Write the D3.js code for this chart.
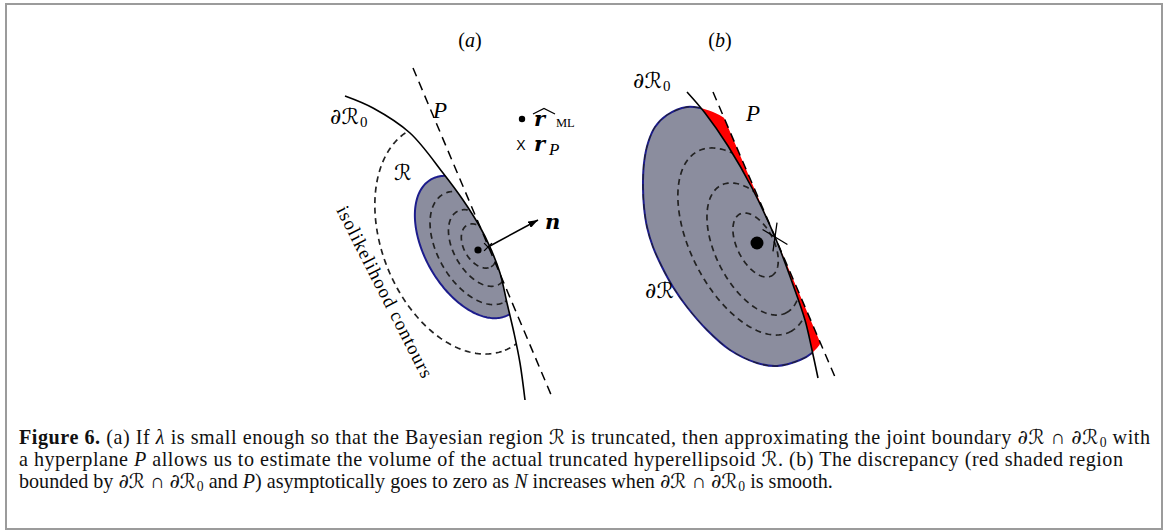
<!DOCTYPE html>
<html>
<head>
<meta charset="utf-8">
<script src="https://cdn.jsdelivr.net/npm/d3@7"></script>
<style>
  html, body { margin: 0; padding: 0; background: #fff; }
  svg { display: block; }
</style>
</head>
<body>
<svg id="fig" width="1168" height="531"></svg>
<script>
// ---------- geometry (local units; origin at the ML estimate, y up) ----------
const panelNames = ["a", "b"];

// Panel (a)
const boundaryA = [[-13.3, 15.4], [-10.5, 14.2], [-6.8, 11.7], [-3.5, 7.7], [-1.5, 5.0], [0.2, 2.3],
                   [1.2, 0.3], [2.2, -2.3], [2.9, -5.3], [3.6, -8.3], [4.2, -11.3], [4.7, -15.0]];
const planeA = [[-6.5, 18.2], [7.4, -14.7]];
// ellipses: [cx, cy, semi-major, semi-minor, tilt in degrees]
const regionA = [-0.8, 0.3, 7.8, 4.5, -60];
const contoursA = [[0.1, 0.4, 2.4, 1.5, -60], [0.0, 0.2, 4.2, 2.4, -60],
                   [-0.4, 0.2, 6.2, 3.6, -60], [-1.8, 1.1, 12.0, 7.8, -68]];
const estimateA = [0, 0];
const projectionA = [1.0, 0.3];
const normalA = [[1.0, 0.3], [6.0, 3.0]];

// Panel (b)
const boundaryB = [[-7.0, 15.1], [-5.2, 13.0], [-2.9, 9.7], [-0.5, 5.5], [1.8, 0.6],
                   [3.5, -3.9], [4.8, -7.7], [5.5, -10.7], [6.1, -13.5]];
const planeB = [[-4.4, 15.1], [7.8, -13.4]];
// outline of the Bayesian region ∂R (closed loop, clockwise from the top)
const regionB = [[-7.0, 13.6], [-5.7, 13.5], [-4.4, 13.1], [-3.1, 12.4], [-1.3, 11.0], [0.7, 8.5],
                 [2.5, 5.3], [4.1, 1.5], [5.4, -2.5], [6.3, -5.9], [6.7, -8.2], [6.4, -9.9],
                 [5.5, -11.0], [4.3, -11.7], [2.0, -12.3], [0.0, -12.0], [-2.7, -10.7], [-5.0, -8.7],
                 [-7.0, -6.4], [-8.4, -4.4], [-9.5, -2.4], [-10.4, -0.4], [-11.0, 1.6], [-11.3, 3.6],
                 [-11.4, 5.6], [-11.3, 8.0], [-10.9, 10.0], [-10.2, 11.6], [-9.0, 12.8]];
const contoursB = [[-0.14, -0.2, 3.47, 1.83, -63], [-0.33, -0.6, 7.16, 3.77, -63],
                   [-1.3, 0.15, 10.14, 5.33, -63]];
const estimateB = [0, 0];
const projectionB = [1.8, 0.6];

// ---------- caption ----------
const captionLines = [
  [["Figure 6.", "bold"], [" (a)  If "], ["λ", "i"], [" is small enough so that the Bayesian region "], ["ℛ", "s"],
   [" is truncated, then approximating the joint boundary "], ["∂ℛ", "s"], [" ∩ "], ["∂ℛ", "s"], ["0", "sub"], [" with"]],
  [["a hyperplane "], ["P", "i"], [" allows us to estimate the volume of the actual truncated hyperellipsoid "], ["ℛ", "s"],
   [". (b)  The discrepancy (red shaded region"]],
  [["bounded by "], ["∂ℛ", "s"], [" ∩ "], ["∂ℛ", "s"], ["0", "sub"], [" and "], ["P", "i"],
   [") asymptotically goes to zero as "], ["N", "i"], [" increases when "], ["∂ℛ", "s"], [" ∩ "], ["∂ℛ", "s"], ["0", "sub"],
   [" is smooth."]]
];

// ---------- drawing ----------
const svg = d3.select("#fig");
const defs = svg.append("defs");

const GRAY = "#8b8d9e", BLUE = "#1c1c8c", RED = "#ff0000";
const SERIF = "'Liberation Serif', 'DejaVu Serif', serif";
const SCRIPT = "'DejaVu Serif', 'DejaVu Sans', serif";
const MATHBOLD = "'DejaVu Serif', serif";

svg.append("rect")
  .attr("x", 6).attr("y", 4).attr("width", 1156).attr("height", 525)
  .attr("fill", "none").attr("stroke", "#9b9b9b").attr("stroke-width", 2);

defs.append("marker")
  .attr("id", "arrow").attr("viewBox", "0 0 10 7")
  .attr("refX", 10).attr("refY", 3.5)
  .attr("markerWidth", 10).attr("markerHeight", 7)
  .attr("markerUnits", "userSpaceOnUse").attr("orient", "auto")
  .append("path").attr("d", "M0,0 L10,3.5 L0,7 Z").attr("fill", "#000");

function ellipsePoints(e, n = 240) {
  const [cx, cy, a, b, deg] = e;
  const t = deg * Math.PI / 180, c = Math.cos(t), s = Math.sin(t);
  return d3.range(n).map(i => {
    const u = 2 * Math.PI * i / n;
    const px = a * Math.cos(u), py = b * Math.sin(u);
    return [cx + px * c - py * s, cy + px * s + py * c];
  });
}

function drawPanel(opt) {
  const { id, x, y, boundary, plane, contours, est, proj } = opt;
  const g = svg.append("g").attr("class", "panel-" + id);

  const curve = d3.line().x(d => x(d[0])).y(d => y(d[1])).curve(d3.curveCatmullRom.alpha(0.5));
  const closed = d3.line().x(d => x(d[0])).y(d => y(d[1])).curve(d3.curveLinearClosed);
  const loop = d3.line().x(d => x(d[0])).y(d => y(d[1])).curve(d3.curveCatmullRomClosed.alpha(0.5));

  const first = boundary[0], last = boundary[boundary.length - 1];
  // feasible side of the boundary ∂R0
  const inside = curve(boundary) +
    `L${x(-40)},${y(last[1])}L${x(-40)},${y(first[1])}Z`;
  defs.append("clipPath").attr("id", `in-${id}`).append("path").attr("d", inside);
  // sliver between ∂R0 and the tangent hyperplane P
  const gap = curve(boundary) +
    `L${x(plane[1][0])},${y(plane[1][1])}L${x(plane[0][0])},${y(plane[0][1])}Z`;
  defs.append("clipPath").attr("id", `gap-${id}`).append("path").attr("d", gap);

  const regionPath = opt.regionLoop ? loop(opt.regionLoop) : closed(ellipsePoints(opt.region));

  g.append("path").attr("d", regionPath)
    .attr("fill", GRAY).attr("clip-path", `url(#in-${id})`);

  if (opt.showGap) {
    g.append("path").attr("d", regionPath)
      .attr("fill", RED).attr("clip-path", `url(#gap-${id})`);
  }

  g.append("path").attr("d", regionPath)
    .attr("fill", "none").attr("stroke", BLUE).attr("stroke-width", 2)
    .attr("clip-path", `url(#in-${id})`);
  if (opt.dashedRegion) {
    g.append("path").attr("d", regionPath)
      .attr("fill", "none").attr("stroke", "#222").attr("stroke-width", 1)
      .attr("stroke-dasharray", "6 4").attr("clip-path", `url(#in-${id})`);
  }

  g.append("g").attr("clip-path", `url(#in-${id})`)
    .selectAll("path").data(contours).join("path")
    .attr("d", d => closed(ellipsePoints(d)))
    .attr("fill", "none").attr("stroke", "#222").attr("stroke-width", 1.7)
    .attr("stroke-dasharray", "6 4.5");

  // boundary ∂R0
  g.append("path").attr("d", curve(boundary))
    .attr("fill", "none").attr("stroke", "#000").attr("stroke-width", 1.6);

  // tangent hyperplane P
  g.append("line")
    .attr("x1", x(plane[0][0])).attr("y1", y(plane[0][1]))
    .attr("x2", x(plane[1][0])).attr("y2", y(plane[1][1]))
    .attr("stroke", "#000").attr("stroke-width", 1.5).attr("stroke-dasharray", "9 6");

  // ML estimate and projection
  g.append("circle").attr("cx", x(est[0])).attr("cy", y(est[1]))
    .attr("r", opt.dotR).attr("fill", "#000");

  const px = x(proj[0]), py = y(proj[1]);
  opt.cross.forEach(([deg, h]) => {
    const t = deg * Math.PI / 180;
    g.append("line")
      .attr("x1", px - h * Math.cos(t)).attr("y1", py - h * Math.sin(t))
      .attr("x2", px + h * Math.cos(t)).attr("y2", py + h * Math.sin(t))
      .attr("stroke", "#000").attr("stroke-width", 1.3);
  });
  return g;
}

const xA = d3.scaleLinear().domain([-20, 20]).range([278, 678]);
const yA = d3.scaleLinear().domain([20, -20]).range([50, 450]);
const xB = d3.scaleLinear().domain([-20, 20]).range([557, 957]);
const yB = d3.scaleLinear().domain([20, -20]).range([43, 443]);

const gA = drawPanel({ id: "a", x: xA, y: yA, boundary: boundaryA, plane: planeA, region: regionA,
  contours: contoursA, est: estimateA, proj: projectionA, dotR: 3.6, cross: [[45, 5.5], [135, 5.5]],
  showGap: false, dashedRegion: false });

const gB = drawPanel({ id: "b", x: xB, y: yB, boundary: boundaryB, plane: planeB, regionLoop: regionB,
  contours: contoursB, est: estimateB, proj: projectionB, dotR: 6.5, cross: [[31, 14.5], [98, 14.5]],
  showGap: true, dashedRegion: true });

// normal vector n
gA.append("line")
  .attr("x1", xA(normalA[0][0])).attr("y1", yA(normalA[0][1]))
  .attr("x2", xA(normalA[1][0])).attr("y2", yA(normalA[1][1]))
  .attr("stroke", "#000").attr("stroke-width", 1.6).attr("marker-end", "url(#arrow)");

// ---------- labels ----------
function label(g, xp, yp, parts, size, extra) {
  const t = g.append("text").attr("x", xp).attr("y", yp)
    .attr("font-family", SERIF).attr("font-size", size);
  if (extra) extra(t);
  let shift = 0;
  parts.forEach(([s, k]) => {
    const ts = t.append("tspan").text(s);
    let dy = 0;
    if (k === "sub") {
      dy = size * 0.15 - shift; shift = size * 0.15;
      ts.attr("font-size", size * 0.68).attr("dx", size * 0.05).attr("class", "sub");
    } else { dy = -shift; shift = 0; }
    if (dy) ts.attr("dy", dy);
    if (k === "i") ts.attr("font-style", "italic");
    if (k === "bold") ts.attr("font-weight", "bold");
    if (k === "bi") ts.attr("font-style", "italic").attr("font-weight", "bold").attr("font-family", MATHBOLD);
    if (k === "s") ts.attr("font-family", SCRIPT);
  });
  return t;
}

panelNames.forEach((n, i) => {
  label(svg, [470, 720][i], 47, [["("], [n, "i"], [")"]], 20, t => t.attr("text-anchor", "middle"));
});

label(gA, 330, 124, [["∂ℛ", "s"], ["0", "sub"]], 22);
label(gA, 433, 118, [["P", "i"]], 23);
label(gA, 394, 180, [["ℛ", "s"]], 22);
label(gA, 545, 229, [["n", "bi"]], 21);

// legend
gA.append("circle").attr("cx", 522).attr("cy", 119).attr("r", 3.2).attr("fill", "#000");
label(gA, 534, 126, [["r", "bi"]], 21);
gA.append("path").attr("d", "M533,114 L544,108.5 L555,114")
  .attr("fill", "none").attr("stroke", "#000").attr("stroke-width", 1.2);
label(gA, 556, 127, [["ML"]], 12.5);
gA.append("text").attr("x", 521).attr("y", 150).attr("text-anchor", "middle")
  .attr("font-family", "'Liberation Sans', sans-serif").attr("font-size", 14).text("X");
label(gA, 534, 151, [["r", "bi"]], 21);
label(gA, 549, 155, [["P", "i"]], 17);

label(gA, 336, 210, [["isolikelihood contours"]], 19,
  t => t.attr("transform", "rotate(63 336 210)").attr("textLength", 190).attr("lengthAdjust", "spacing"));

label(gB, 633, 88, [["∂ℛ", "s"], ["0", "sub"]], 22);
label(gB, 746, 121, [["P", "i"]], 23);
label(gB, 645, 298, [["∂ℛ", "s"]], 22);

// ---------- caption ----------
const capSize = 17.5;
const capBase = [444, 466, 488];
const capWidth = [1131, 1104, null];
const capNodes = captionLines.map((parts, i) =>
  label(svg, 19, capBase[i], parts, capSize, t => t.attr("fill", "#111")));

// fit the justified lines to the text block width
const natural = capNodes[0].node().getComputedTextLength();
const fitted = capSize * Math.min(1.15, Math.max(0.85, capWidth[0] / natural));
capNodes.forEach((t, i) => {
  t.attr("font-size", fitted);
  t.selectAll("tspan.sub").attr("font-size", fitted * 0.68);
  if (capWidth[i]) t.attr("textLength", capWidth[i]).attr("lengthAdjust", "spacing");
});
</script>
</body>
</html>
